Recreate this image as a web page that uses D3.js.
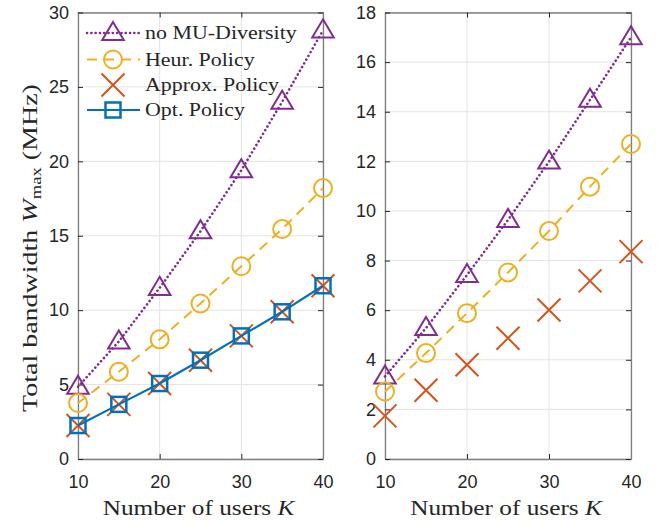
<!DOCTYPE html>
<html><head><meta charset="utf-8">
<script src="https://cdn.jsdelivr.net/npm/d3@7"></script>
<style>body{margin:0;background:#fff}</style>
</head><body>
<svg id="c" width="670" height="521"></svg>
<script>
const users = [10, 15, 20, 25, 30, 35, 40];
const xTicks = [10, 20, 30, 40];
const leftYTicks = [0, 5, 10, 15, 20, 25, 30];
const rightYTicks = [0, 2, 4, 6, 8, 10, 12, 14, 16, 18];

const leftNoMU   = [4.85, 7.9, 11.5, 15.3, 19.4, 24.0, 28.8];
const leftHeur   = [3.76, 5.86, 8.04, 10.45, 12.95, 15.45, 18.2];
const leftApprox = [2.25, 3.67, 5.07, 6.64, 8.27, 9.89, 11.64];
const leftOpt    = [2.25, 3.67, 5.07, 6.64, 8.27, 9.89, 11.64];

const rightNoMU   = [3.33, 5.28, 7.42, 9.64, 11.99, 14.48, 17.0];
const rightHeur   = [2.72, 4.27, 5.88, 7.52, 9.19, 10.98, 12.70];
const rightApprox = [1.74, 2.77, 3.80, 4.87, 6.01, 7.18, 8.36];

const legendLabels = ["no MU-Diversity", "Heur. Policy", "Approx. Policy", "Opt. Policy"];

const C = {purple:"#7E2F8E", orange:"#EDB120", red:"#D95319", blue:"#0072BD"};
const svg = d3.select("#c");
const axisCol = "#262626";
const serif = "'Liberation Serif','Times New Roman',serif";

function marker(g, type, x, y, color){
  if(type==="tri"){
    const s=11;
    g.append("path").attr("d",`M${x},${y-s} L${x+s*0.98},${y+s*0.64} L${x-s*0.98},${y+s*0.64} Z`)
      .attr("fill","none").attr("stroke",color).attr("stroke-width",2);
  } else if(type==="circ"){
    g.append("circle").attr("cx",x).attr("cy",y).attr("r",9).attr("fill","none").attr("stroke",color).attr("stroke-width",2);
  } else if(type==="x"){
    const s=11.5;
    g.append("path").attr("d",`M${x-s},${y-s} L${x+s},${y+s} M${x-s},${y+s} L${x+s},${y-s}`)
      .attr("stroke",color).attr("stroke-width",2);
  } else if(type==="sq"){
    const s=7.5;
    g.append("rect").attr("x",x-s).attr("y",y-s).attr("width",2*s).attr("height",2*s)
      .attr("fill","none").attr("stroke",color).attr("stroke-width",2.5);
  }
}

// fit text horizontally to a target width by scaling
function fitText(sel, cx, cy, rot, targetW, anchorStart){
  const w = sel.node().getComputedTextLength ? sel.node().getBBox().width : targetW;
  const k = targetW / w;
  sel.attr("transform", `translate(${cx},${cy}) rotate(${rot}) scale(${k},1)`);
}

function panel(x0, x1, y0, y1, yMax, yTicks, series, xlabCx){
  const x = d3.scaleLinear().domain([10,40]).range([x0,x1]);
  const y = d3.scaleLinear().domain([0,yMax]).range([y1,y0]);
  const g = svg.append("g");
  g.selectAll(".gx").data(xTicks).enter().append("line")
    .attr("x1",d=>x(d)).attr("x2",d=>x(d)).attr("y1",y0).attr("y2",y1)
    .attr("stroke","#e3e3e3").attr("stroke-width",1);
  g.selectAll(".gy").data(yTicks).enter().append("line")
    .attr("y1",d=>y(d)).attr("y2",d=>y(d)).attr("x1",x0).attr("x2",x1)
    .attr("stroke","#e3e3e3").attr("stroke-width",1);
  const ax = g.append("g").attr("transform",`translate(0,${y1})`)
    .call(d3.axisBottom(x).tickValues(xTicks).tickSizeInner(-5).tickSizeOuter(0).tickPadding(16));
  const axT = g.append("g").attr("transform",`translate(0,${y0})`)
    .call(d3.axisTop(x).tickValues(xTicks).tickSizeInner(-5).tickSizeOuter(0).tickFormat(""));
  const ay = g.append("g").attr("transform",`translate(${x0},0)`)
    .call(d3.axisLeft(y).tickValues(yTicks).tickSizeInner(-5).tickSizeOuter(0).tickPadding(9));
  const ayR = g.append("g").attr("transform",`translate(${x1},0)`)
    .call(d3.axisRight(y).tickValues(yTicks).tickSizeInner(-5).tickSizeOuter(0).tickFormat(""));
  [ax,axT,ay,ayR].forEach(a=>{
    a.selectAll("path").attr("stroke","#7f7f7f").attr("stroke-width",1.3);
    a.selectAll("line").attr("stroke",axisCol).attr("stroke-width",1);
    a.selectAll("text").attr("fill",axisCol).style("font-family","'Liberation Sans',Arial,sans-serif").style("font-size","18px");
  });
  series.forEach(s=>{
    if(s.dash!==null){
      const line = d3.line().x((d,i)=>x(users[i])).y(d=>y(d));
      g.append("path").datum(s.vals).attr("d",line).attr("fill","none")
        .attr("stroke",s.color).attr("stroke-width",s.w||2)
        .attr("stroke-dasharray",s.dash).attr("stroke-linecap",s.cap||"butt");
    }
    s.vals.forEach((v,i)=>marker(g,s.m,x(users[i]),y(v),s.color));
  });
  const t = g.append("text").attr("text-anchor","middle")
    .attr("fill",axisCol).style("font-family",serif).style("font-size","21px");
  t.append("tspan").text("Number of users ");
  t.append("tspan").attr("font-style","italic").text("K");
  fitText(t, xlabCx, 515, 0, 193);
  return {x,y};
}

const dotted = {dash:"0.1 4.2", cap:"round", w:2.6};
panel(78, 323, 12.5, 459, 30, leftYTicks, [
  Object.assign({vals:leftNoMU, color:C.purple, m:"tri"}, dotted),
  {vals:leftHeur, color:C.orange, m:"circ", dash:"10 7", w:2},
  {vals:leftApprox, color:C.red, m:"x", dash:null},
  {vals:leftOpt, color:C.blue, m:"sq", dash:"", w:2.2}
], 198.5);
panel(385, 631, 12.5, 459, 18, rightYTicks, [
  Object.assign({vals:rightNoMU, color:C.purple, m:"tri"}, dotted),
  {vals:rightHeur, color:C.orange, m:"circ", dash:"10 7", w:2},
  {vals:rightApprox, color:C.red, m:"x", dash:null}
], 506);

// legend
const legStyles = [
  Object.assign({color:C.purple, m:"tri"}, dotted),
  {color:C.orange, m:"circ", dash:"10 7", w:2},
  {color:C.red, m:"x", dash:null},
  {color:C.blue, m:"sq", dash:"", w:2.2}
];
const leg = svg.append("g");
const rowsY = [33, 59.5, 85, 110];
const legK = [];
legStyles.forEach((s,i)=>{
  const yy = rowsY[i];
  if(s.dash!==null){
    leg.append("line").attr("x1",87).attr("x2",140).attr("y1",yy).attr("y2",yy)
      .attr("stroke",s.color).attr("stroke-width",s.w).attr("stroke-dasharray",s.dash).attr("stroke-linecap",s.cap||"butt");
  }
  marker(leg,s.m,113,yy,s.color);
  const t = leg.append("text").text(legendLabels[i])
    .attr("fill",axisCol).style("font-family",serif).style("font-size","19.5px");
  legK.push(t);
});
// scale legend texts uniformly so the first label spans 152px
const k0 = 152 / legK[0].node().getBBox().width;
legK.forEach((t,i)=>t.attr("transform",`translate(145,${rowsY[i]+6}) scale(${k0},1)`));

// y label
const yl = svg.append("text").attr("text-anchor","middle")
  .attr("fill",axisCol).style("font-family",serif).style("font-size","21px");
yl.append("tspan").text("Total bandwidth ");
yl.append("tspan").attr("font-style","italic").text("W");
yl.append("tspan").attr("dy",4).style("font-size","14px").text("max");
yl.append("tspan").attr("dy",-4).text(" (MHz)");
fitText(yl, 37, 248, -90, 328);
</script>
</body></html>
